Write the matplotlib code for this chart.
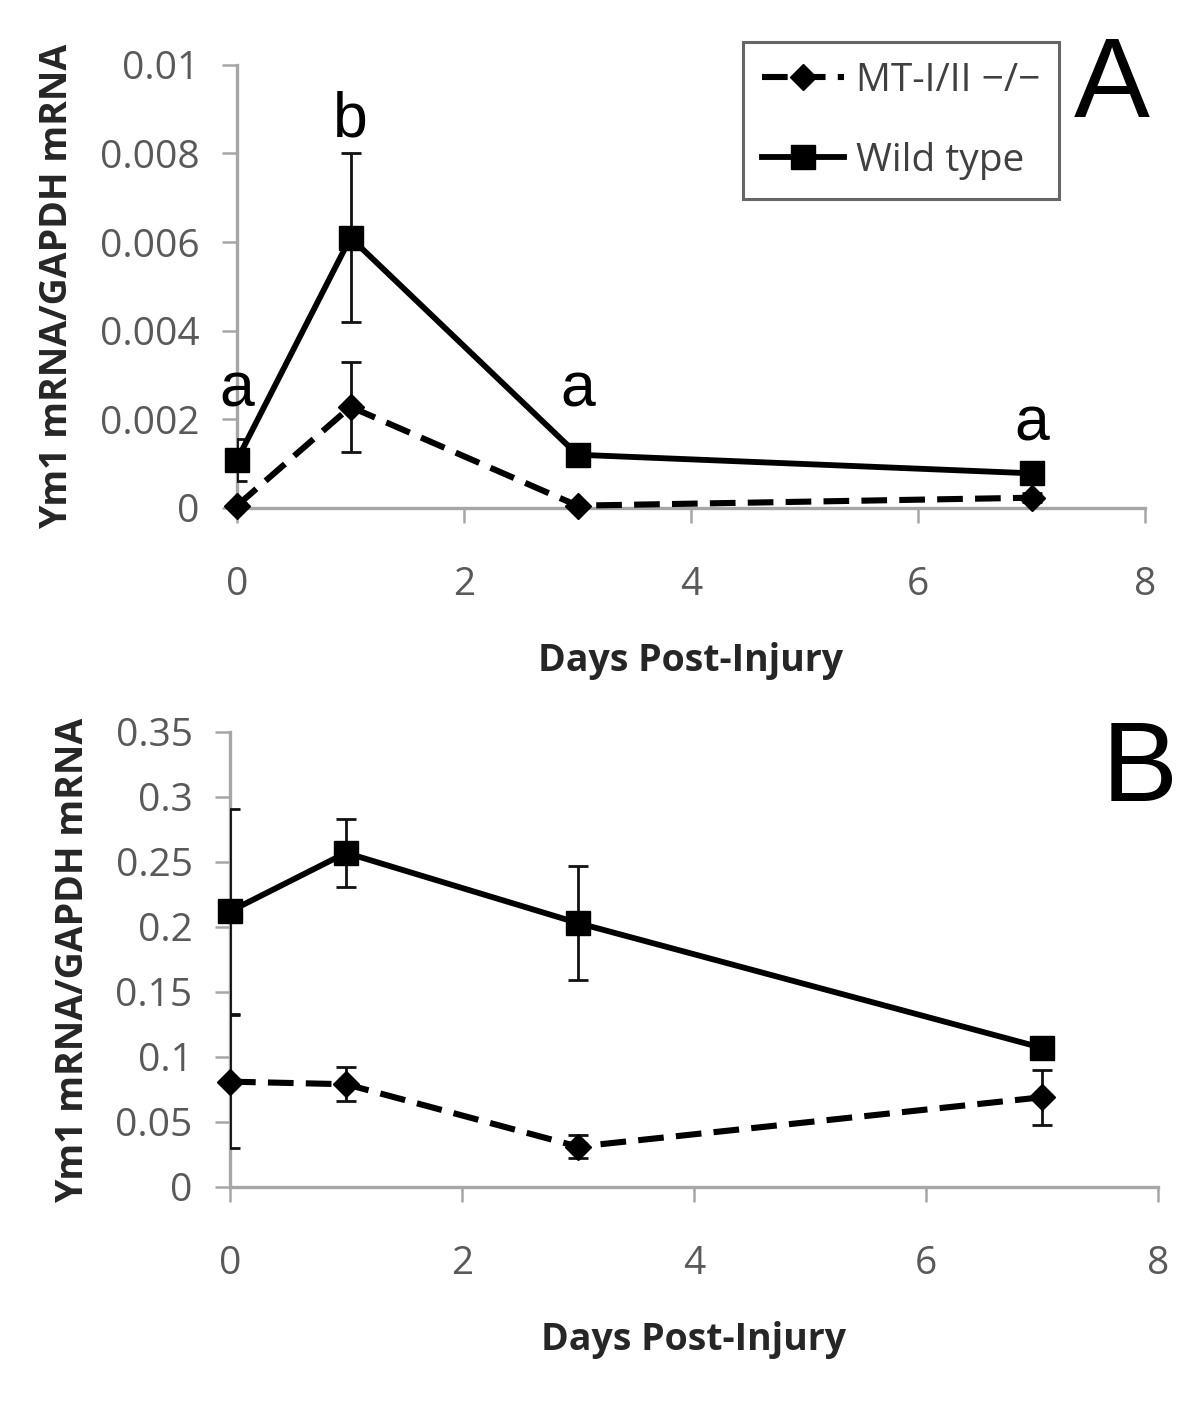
import matplotlib
matplotlib.use('Agg')
import matplotlib.pyplot as plt
import numpy as np

# data
days = [0, 1, 3, 7]

# panel A
a_wt = [0.00108, 0.0061, 0.00120, 0.00078]
a_wt_err = [0.00047, 0.0019, 0.0001, 0.0002]
a_mt = [0.00005, 0.00228, 0.00005, 0.00023]
a_mt_err = [0.00005, 0.00102, 0.00003, 0.0001]
a_letters = ['a', 'b', 'a', 'a']
a_letter_y = [0.00266, 0.00876, 0.00266, 0.0019]

# panel B
b_wt = [0.212, 0.257, 0.203, 0.107]
b_wt_err = [0.079, 0.026, 0.044, 0.004]
b_mt = [0.081, 0.079, 0.031, 0.069]
b_mt_err = [0.051, 0.013, 0.009, 0.021]

a_yticks = [0, 0.002, 0.004, 0.006, 0.008, 0.01]
a_yticklabels = ['0', '0.002', '0.004', '0.006', '0.008', '0.01']
b_yticks = [0, 0.05, 0.1, 0.15, 0.2, 0.25, 0.3, 0.35]
b_yticklabels = ['0', '0.05', '0.1', '0.15', '0.2', '0.25', '0.3', '0.35']
xticks = [0, 2, 4, 6, 8]

mt_label = 'MT-I/II \u2212/\u2212'
wt_label = 'Wild type'

plt.rcParams['font.family'] = ['Open Sans', 'DejaVu Sans']

fig = plt.figure(figsize=(12, 14.03), dpi=100)
axA = fig.add_axes([0.1975, 0.638, 0.7567, 0.3158])
axB = fig.add_axes([0.1917, 0.154, 0.7733, 0.3243])

gray = '#a6a6a6'
tick_gray = '#595959'


def style(ax, yticks, yticklabels, ymax):
    ax.set_xlim(0, 8)
    ax.set_ylim(0, ymax)
    ax.set_xticks(xticks)
    ax.set_yticks(yticks)
    ax.set_yticklabels(yticklabels)
    for s in ['top', 'right']:
        ax.spines[s].set_visible(False)
    for s in ['left', 'bottom']:
        ax.spines[s].set_color(gray)
        ax.spines[s].set_linewidth(2.4)
    ax.tick_params(axis='both', colors=gray, labelcolor=tick_gray,
                   labelsize=28, width=1.8, length=11, direction='out')
    ax.tick_params(axis='x', pad=31)
    ax.tick_params(axis='y', pad=16)
    ax.set_xlabel('Days Post-Injury', fontsize=27, fontweight='bold',
                  color='#262626', labelpad=27)
    ax.set_ylabel('Ym1 mRNA/GAPDH mRNA', fontsize=27, fontweight='bold',
                  color='#262626', labelpad=17)


def draw(ax, mt, mt_err, wt, wt_err):
    ax.errorbar(days, wt, yerr=wt_err, fmt='none', ecolor='#111111',
                elinewidth=2, capsize=7.5, capthick=2, zorder=3)
    ax.errorbar(days, mt, yerr=mt_err, fmt='none', ecolor='#111111',
                elinewidth=2, capsize=7.5, capthick=2, zorder=3)
    l1, = ax.plot(days, mt, color='black', lw=4.4, dashes=(4.2, 2.0),
                  marker='D', markersize=13, label=mt_label, zorder=4,
                  clip_on=False)
    l2, = ax.plot(days, wt, color='black', lw=4.2, marker='s',
                  markersize=17, label=wt_label, zorder=5, clip_on=False)
    return l1, l2


style(axA, a_yticks, a_yticklabels, 0.01)
style(axB, b_yticks, b_yticklabels, 0.35)

h = draw(axA, a_mt, a_mt_err, a_wt, a_wt_err)
draw(axB, b_mt, b_mt_err, b_wt, b_wt_err)

for x, y, t in zip(days, a_letter_y, a_letters):
    axA.text(x, y, t, fontsize=45, family='Liberation Sans',
             ha='center', va='center', color='black')

leg = axA.legend(handles=h, loc='upper left', bbox_to_anchor=(0.619, 0.970),
                 bbox_transform=fig.transFigure, fontsize=28, frameon=True,
                 fancybox=False, handlelength=2.1, handletextpad=0.3,
                 borderpad=0.5, labelspacing=1.08, borderaxespad=0)
leg.get_frame().set_edgecolor('#404040')
leg.get_frame().set_linewidth(2.2)
for t in leg.get_texts():
    t.set_color('#404040')

fig.text(1112 / 1200, 1 - 88 / 1403, 'A', fontsize=82, family='Liberation Sans',
         ha='center', va='center')
fig.text(1140 / 1200, 1 - 772 / 1403, 'B', fontsize=82, family='Liberation Sans',
         ha='center', va='center')

fig.savefig('out.png', dpi=100, facecolor='white')
